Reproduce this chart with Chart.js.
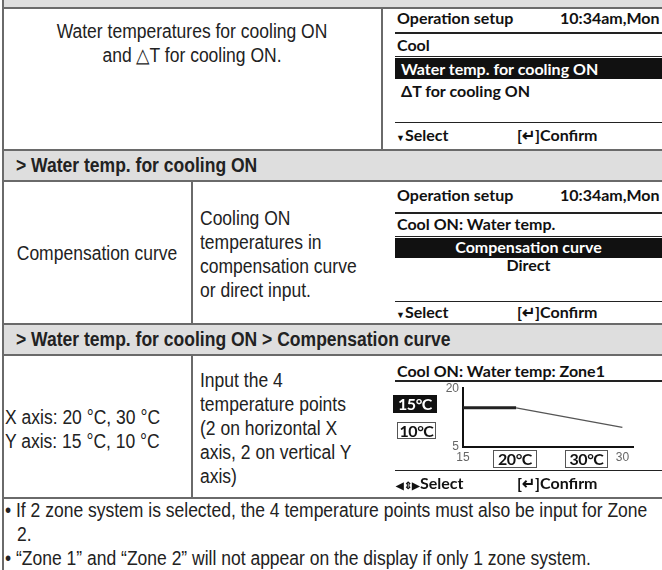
<!DOCTYPE html>
<html>
<head>
<meta charset="utf-8">
<script src="https://cdn.jsdelivr.net/npm/chart.js@4.4.1/dist/chart.umd.min.js"></script>
<style>
  html, body { margin: 0; padding: 0; }
  body { width: 662px; height: 570px; overflow: hidden; position: relative; background: #fff;
    font-family: "Liberation Sans", Arial, sans-serif; color: #222; }
  .abs { position: absolute; }
  .hline { position: absolute; height: 2px; background: #6a6a6a; }
  .vline { position: absolute; width: 2px; background: #6a6a6a; }
  .band { position: absolute; left: 3px; right: 0; background: #dedede; }
  /* the manual's body face is a condensed grotesque: squeeze Liberation Sans */
  .txt { position: absolute; font-size: 20px; line-height: 24px; white-space: nowrap;
    transform: scaleX(0.875); transform-origin: left top; }
  .txt.c { transform-origin: center top; text-align: center; }
  .hdr { position: absolute; left: 16px; font-size: 20px; font-weight: bold; white-space: nowrap; color: #222;
    transform: scaleX(0.876); transform-origin: left top; }
  .lcd { position: absolute; font-family: Lato, "Open Sans", sans-serif; font-weight: bold; font-size: 16px;
    line-height: 16px; color: #111; white-space: nowrap; }
  .lcdline { position: absolute; left: 395px; right: 0; height: 2px; background: #222; }
  .bar { position: absolute; left: 395px; right: 0; background: #111; color: #fff; }
  .box { position: absolute; font-family: Lato, sans-serif; font-weight: bold; font-size: 16px; text-align: center;
    line-height: 15px; box-sizing: border-box; border: 1.5px solid #555; color: #111; letter-spacing: -0.5px; }
  .note { position: absolute; left: 5px; font-size: 20px; line-height: 24px; white-space: nowrap;
    transform: scaleX(0.875); transform-origin: left top; }
</style>
</head>
<body>
<!-- table frame -->
<div class="band" style="top:0;height:7px"></div>
<div class="band" style="top:150px;height:31px"></div>
<div class="band" style="top:324px;height:31px"></div>
<div class="vline" style="left:2px;top:0;height:570px"></div>
<div class="hline" style="left:3px;right:0;top:7px"></div>
<div class="hline" style="left:3px;right:0;top:149px"></div>
<div class="hline" style="left:3px;right:0;top:180px"></div>
<div class="hline" style="left:3px;right:0;top:323px"></div>
<div class="hline" style="left:3px;right:0;top:354px"></div>
<div class="hline" style="left:3px;right:0;top:497px"></div>
<div class="vline" style="left:381px;top:8px;height:142px;width:1.5px"></div>
<div class="vline" style="left:191px;top:181px;height:143px;width:1.5px"></div>
<div class="vline" style="left:191px;top:355px;height:143px;width:1.5px"></div>

<!-- row 1 -->
<div class="txt c" style="left:3px;width:378px;top:19px">Water temperatures for cooling ON<br>and &#9651;T for cooling ON.</div>
<div class="lcd" style="left:397px;top:10px">Operation setup</div>
<div class="lcd" style="left:560px;top:10px">10:34am,Mon</div>
<div class="lcdline" style="top:32px"></div>
<div class="lcd" style="left:397px;top:37px">Cool</div>
<div class="lcdline" style="top:56px;height:1px"></div>
<div class="bar" style="top:58px;height:21px"></div>
<div class="lcd" style="left:401px;top:61px;color:#fff">Water temp. for cooling ON</div>
<div class="lcd" style="left:401px;top:83px">&Delta;T for cooling ON</div>
<div class="lcdline" style="top:122px;height:1px"></div>
<div class="lcd" style="left:396px;top:127px"><span style="font-size:9px">&#9660;</span>Select</div>
<div class="lcd" style="left:517px;top:127px">[&#8629;]Confirm</div>

<!-- header 1 -->
<div class="hdr" style="top:154px">&gt; Water temp. for cooling ON</div>

<!-- row 2 -->
<div class="txt c" style="left:3px;width:188px;top:241px">Compensation curve</div>
<div class="txt" style="left:200px;top:206px">Cooling ON<br>temperatures in<br>compensation curve<br>or direct input.</div>
<div class="lcd" style="left:397px;top:187px">Operation setup</div>
<div class="lcd" style="left:560px;top:187px">10:34am,Mon</div>
<div class="lcdline" style="top:212px"></div>
<div class="lcd" style="left:397px;top:216px">Cool ON: Water temp.</div>
<div class="lcdline" style="top:236px;height:1px"></div>
<div class="bar" style="top:238px;height:20px"></div>
<div class="lcd" style="left:395px;right:0;top:239px;color:#fff;text-align:center">Compensation curve</div>
<div class="lcd" style="left:395px;right:0;top:257px;text-align:center">Direct</div>
<div class="lcdline" style="top:301px;height:1px"></div>
<div class="lcd" style="left:396px;top:304px"><span style="font-size:9px">&#9660;</span>Select</div>
<div class="lcd" style="left:517px;top:304px">[&#8629;]Confirm</div>

<!-- header 2 -->
<div class="hdr" style="top:328px">&gt; Water temp. for cooling ON &gt; Compensation curve</div>

<!-- row 3 -->
<div class="txt" style="left:5px;top:405px">X axis: 20 &deg;C, 30 &deg;C<br>Y axis: 15 &deg;C, 10 &deg;C</div>
<div class="txt" style="left:200px;top:368px">Input the 4<br>temperature points<br>(2 on horizontal X<br>axis, 2 on vertical Y<br>axis)</div>
<div class="lcd" style="left:397px;top:363px">Cool ON: Water temp: Zone1</div>
<div class="lcdline" style="top:380px"></div>
<div class="abs" style="left:430px;top:377px;width:212px;height:90px"><canvas id="curve"></canvas></div>
<div class="box" style="left:393px;top:395px;width:44px;height:18px;background:#111;color:#fff;border-color:#111">15&deg;C</div>
<div class="box" style="left:397px;top:422px;width:39px;height:17px">10&deg;C</div>
<div class="box" style="left:493px;top:450px;width:44px;height:18px">20&deg;C</div>
<div class="box" style="left:565px;top:450px;width:43px;height:18px">30&deg;C</div>
<div class="lcdline" style="top:470px;height:1px"></div>
<div class="lcd" style="left:396px;top:475px"><span style="font-size:10px">&#9664;&#8661;&#9654;</span>Select</div>
<div class="lcd" style="left:517px;top:475px">[&#8629;]Confirm</div>

<!-- notes -->
<div class="note" style="top:498px">&bull; If 2 zone system is selected, the 4 temperature points must also be input for Zone</div>
<div class="note" style="top:522px;left:17px">2.</div>
<div class="note" style="top:546px">&bull; &ldquo;Zone 1&rdquo; and &ldquo;Zone 2&rdquo; will not appear on the display if only 1 zone system.</div>

<script>
// compensation curve points
const curveX = [15, 20, 30];
const curveY = [15, 15, 10];
const xTicks = [15, 30];
const yTicks = [5, 20];
const xRange = [15, 31];
const yRange = [5, 20];

const tickFont = { family: "Liberation Sans", size: 12 };

new Chart(document.querySelector("#curve"), {
  type: "line",
  data: {
    datasets: [{
      data: curveX.map((x, i) => ({ x, y: curveY[i] })),
      borderColor: "#333",
      pointRadius: 0,
      tension: 0,
      segment: {
        borderWidth: (ctx) => (ctx.p0DataIndex === 0 ? 3 : 1.3),
        borderColor: (ctx) => (ctx.p0DataIndex === 0 ? "#222" : "#555"),
      },
    }],
  },
  options: {
    responsive: true,
    maintainAspectRatio: false,
    animation: false,
    clip: false,
    layout: { padding: { top: 8, right: 9, left: 0, bottom: 0 } },
    plugins: { legend: { display: false }, tooltip: { enabled: false } },
    scales: {
      x: {
        type: "linear",
        min: xRange[0],
        max: xRange[1],
        afterBuildTicks: (s) => { s.ticks = xTicks.map((value) => ({ value })); },
        afterFit: (s) => { s.height = 20; },
        grid: { display: false, drawTicks: false },
        border: { display: true, color: "#111", width: 2 },
        ticks: { font: tickFont, color: "#666", padding: 3, maxRotation: 0 },
      },
      y: {
        min: yRange[0],
        max: yRange[1],
        afterBuildTicks: (s) => { s.ticks = yTicks.map((value) => ({ value })); },
        afterFit: (s) => { s.width = 33; },
        grid: { display: false, drawTicks: false },
        border: { display: true, color: "#111", width: 2 },
        ticks: { font: tickFont, color: "#666", padding: 4 },
      },
    },
  },
});
</script>
</body>
</html>
